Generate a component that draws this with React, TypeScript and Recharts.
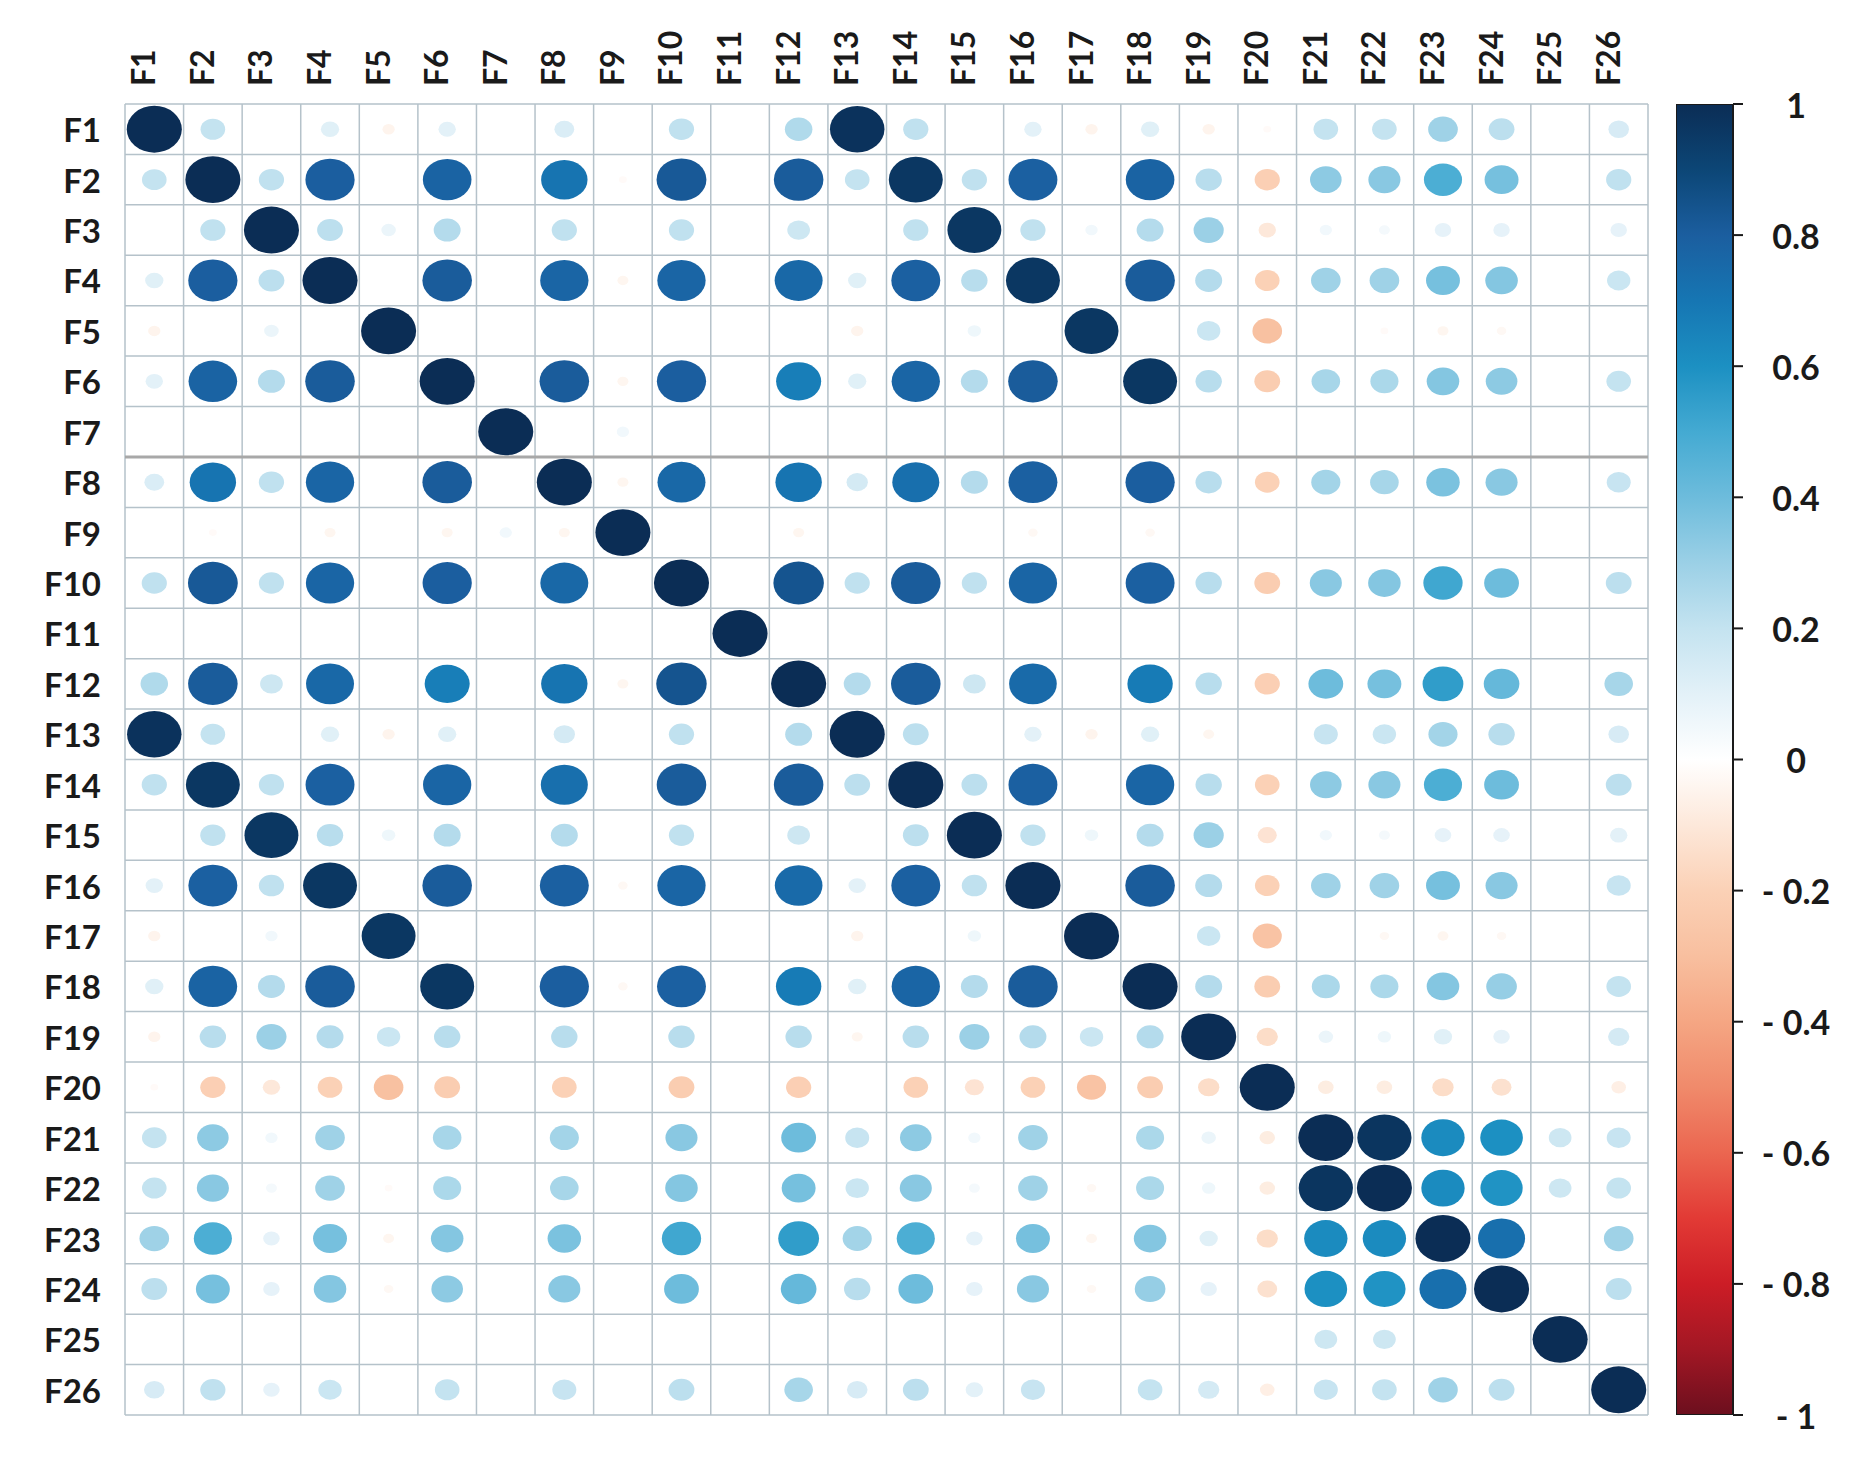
import React from 'react';
import { ScatterChart, Scatter, XAxis, YAxis, ReferenceLine, BarChart, Bar } from 'recharts';

const labels = ['F1','F2','F3','F4','F5','F6','F7','F8','F9','F10','F11','F12','F13','F14','F15','F16','F17','F18','F19','F20','F21','F22','F23','F24','F25','F26'];

const rF1 = [1, 0.2, 0, 0.11, -0.05, 0.1, 0, 0.13, 0, 0.21, 0, 0.25, 0.98, 0.21, 0, 0.1, -0.05, 0.11, -0.05, -0.02, 0.2, 0.2, 0.29, 0.22, 0, 0.14];
const rF2 = [0.2, 1, 0.21, 0.8, 0, 0.78, 0, 0.71, -0.02, 0.82, 0, 0.81, 0.2, 0.96, 0.21, 0.79, 0, 0.78, 0.23, -0.21, 0.33, 0.34, 0.48, 0.38, 0, 0.21];
const rF3 = [0, 0.21, 1, 0.22, 0.07, 0.24, 0, 0.21, 0, 0.21, 0, 0.17, 0, 0.21, 0.96, 0.21, 0.05, 0.24, 0.3, -0.1, 0.05, 0.04, 0.09, 0.09, 0, 0.09];
const rF4 = [0.11, 0.8, 0.22, 1, 0, 0.81, 0, 0.77, -0.04, 0.77, 0, 0.76, 0.11, 0.79, 0.23, 0.96, 0, 0.81, 0.24, -0.2, 0.29, 0.29, 0.38, 0.35, 0, 0.18];
const rF5 = [-0.05, 0, 0.07, 0, 1, 0, 0, 0, 0, 0, 0, 0, -0.05, 0, 0.06, 0, 0.96, 0, 0.18, -0.29, 0, -0.02, -0.04, -0.03, 0, 0];
const rF6 = [0.1, 0.78, 0.24, 0.81, 0, 1, 0, 0.81, -0.04, 0.8, 0, 0.67, 0.11, 0.77, 0.24, 0.81, 0, 0.96, 0.23, -0.22, 0.27, 0.26, 0.35, 0.33, 0, 0.2];
const rF7 = [0, 0, 0, 0, 0, 0, 1, 0, 0.05, 0, 0, 0, 0, 0, 0, 0, 0, 0, 0, 0, 0, 0, 0, 0, 0, 0];
const rF8 = [0.13, 0.71, 0.21, 0.77, 0, 0.81, 0, 1, -0.04, 0.76, 0, 0.71, 0.15, 0.73, 0.24, 0.79, 0, 0.8, 0.23, -0.2, 0.28, 0.27, 0.37, 0.34, 0, 0.19];
const rF9 = [0, -0.02, 0, -0.04, 0, -0.04, 0.05, -0.04, 1, 0, 0, -0.04, 0, 0, 0, -0.03, 0, -0.03, 0, 0, 0, 0, 0, 0, 0, 0];
const rF10 = [0.21, 0.82, 0.21, 0.77, 0, 0.8, 0, 0.76, 0, 1, 0, 0.84, 0.21, 0.81, 0.21, 0.77, 0, 0.79, 0.23, -0.22, 0.34, 0.35, 0.51, 0.4, 0, 0.22];
const rF11 = [0, 0, 0, 0, 0, 0, 0, 0, 0, 0, 1, 0, 0, 0, 0, 0, 0, 0, 0, 0, 0, 0, 0, 0, 0, 0];
const rF12 = [0.25, 0.81, 0.17, 0.76, 0, 0.67, 0, 0.71, -0.04, 0.84, 0, 1, 0.24, 0.81, 0.17, 0.75, 0, 0.68, 0.23, -0.21, 0.4, 0.38, 0.55, 0.42, 0, 0.27];
const rF13 = [0.98, 0.2, 0, 0.11, -0.05, 0.11, 0, 0.15, 0, 0.21, 0, 0.24, 1, 0.22, 0, 0.1, -0.05, 0.11, -0.04, 0, 0.19, 0.18, 0.28, 0.23, 0, 0.14];
const rF14 = [0.21, 0.96, 0.21, 0.79, 0, 0.77, 0, 0.73, 0, 0.81, 0, 0.81, 0.22, 1, 0.22, 0.79, 0, 0.77, 0.23, -0.2, 0.33, 0.34, 0.48, 0.4, 0, 0.22];
const rF15 = [0, 0.21, 0.96, 0.23, 0.06, 0.24, 0, 0.24, 0, 0.21, 0, 0.17, 0, 0.22, 1, 0.21, 0.06, 0.24, 0.3, -0.12, 0.05, 0.04, 0.09, 0.09, 0, 0.1];
const rF16 = [0.1, 0.79, 0.21, 0.96, 0, 0.81, 0, 0.79, -0.03, 0.77, 0, 0.75, 0.1, 0.79, 0.21, 1, 0, 0.81, 0.24, -0.2, 0.29, 0.29, 0.38, 0.34, 0, 0.19];
const rF17 = [-0.05, 0, 0.05, 0, 0.96, 0, 0, 0, 0, 0, 0, 0, -0.05, 0, 0.06, 0, 1, 0, 0.18, -0.28, 0, -0.03, -0.04, -0.03, 0, 0];
const rF18 = [0.11, 0.78, 0.24, 0.81, 0, 0.96, 0, 0.8, -0.03, 0.79, 0, 0.68, 0.11, 0.77, 0.24, 0.81, 0, 1, 0.24, -0.22, 0.26, 0.26, 0.35, 0.31, 0, 0.2];
const rF19 = [-0.05, 0.23, 0.3, 0.24, 0.18, 0.23, 0, 0.23, 0, 0.23, 0, 0.23, -0.04, 0.23, 0.3, 0.24, 0.18, 0.24, 1, -0.15, 0.07, 0.06, 0.11, 0.09, 0, 0.15];
const rF20 = [-0.02, -0.21, -0.1, -0.2, -0.29, -0.22, 0, -0.2, 0, -0.22, 0, -0.21, 0, -0.2, -0.12, -0.2, -0.28, -0.22, -0.15, 1, -0.08, -0.08, -0.15, -0.13, 0, -0.07];
const rF21 = [0.2, 0.33, 0.05, 0.29, 0, 0.27, 0, 0.28, 0, 0.34, 0, 0.4, 0.19, 0.33, 0.05, 0.29, 0, 0.26, 0.07, -0.08, 1, 0.97, 0.62, 0.6, 0.17, 0.19];
const rF22 = [0.2, 0.34, 0.04, 0.29, -0.02, 0.26, 0, 0.27, 0, 0.35, 0, 0.38, 0.18, 0.34, 0.04, 0.29, -0.03, 0.26, 0.06, -0.08, 0.97, 1, 0.62, 0.59, 0.17, 0.2];
const rF23 = [0.29, 0.48, 0.09, 0.38, -0.04, 0.35, 0, 0.37, 0, 0.51, 0, 0.55, 0.28, 0.48, 0.09, 0.38, -0.04, 0.35, 0.11, -0.15, 0.62, 0.62, 1, 0.73, 0, 0.29];
const rF24 = [0.22, 0.38, 0.09, 0.35, -0.03, 0.33, 0, 0.34, 0, 0.4, 0, 0.42, 0.23, 0.4, 0.09, 0.34, -0.03, 0.31, 0.09, -0.13, 0.6, 0.59, 0.73, 1, 0, 0.22];
const rF25 = [0, 0, 0, 0, 0, 0, 0, 0, 0, 0, 0, 0, 0, 0, 0, 0, 0, 0, 0, 0, 0.17, 0.17, 0, 0, 1, 0];
const rF26 = [0.14, 0.21, 0.09, 0.18, 0, 0.2, 0, 0.19, 0, 0.22, 0, 0.27, 0.14, 0.22, 0.1, 0.19, 0, 0.2, 0.15, -0.07, 0.19, 0.2, 0.29, 0.22, 0, 1];

const rows = [rF1, rF2, rF3, rF4, rF5, rF6, rF7, rF8, rF9, rF10, rF11, rF12, rF13, rF14, rF15, rF16, rF17, rF18, rF19, rF20, rF21, rF22, rF23, rF24, rF25, rF26];

const colorbarTicks = [1, 0.8, 0.6, 0.4, 0.2, 0, -0.2, -0.4, -0.6, -0.8, -1];

const paletteValues = [-1, -0.9, -0.8, -0.7, -0.6, -0.5, -0.4, -0.3, -0.2, -0.1, 0, 0.1, 0.2, 0.3, 0.4, 0.5, 0.6, 0.7, 0.8, 0.9, 1];
const paletteColors = ['#6c0f1e', '#a21724', '#cc1d26', '#e23a35', '#eb6650', '#f08a6b', '#f5a683', '#f8bf9f', '#fbd1b6', '#fde8da', '#ffffff', '#e3f1f8', '#c4e3f0', '#9bd0e6', '#6dbcdc', '#44aad2', '#1c90c2', '#1676b3', '#1b5e9f', '#0c4676', '#0b2d55'];

const hexToRgb = (h: string) => [parseInt(h.slice(1, 3), 16), parseInt(h.slice(3, 5), 16), parseInt(h.slice(5, 7), 16)];
const colorFor = (v: number) => {
  const c = Math.max(-1, Math.min(1, v));
  for (let k = 0; k < paletteValues.length - 1; k++) {
    if (c >= paletteValues[k] && c <= paletteValues[k + 1]) {
      const t = (c - paletteValues[k]) / (paletteValues[k + 1] - paletteValues[k]);
      const a = hexToRgb(paletteColors[k]);
      const b = hexToRgb(paletteColors[k + 1]);
      const m = a.map((x, i) => Math.round(x + (b[i] - x) * t));
      return `rgb(${m[0]},${m[1]},${m[2]})`;
    }
  }
  return '#ffffff';
};

const points = rows.flatMap((row, i) => row.map((v, j) => ({ x: j + 0.5, y: i + 0.5, v })));
const centers = labels.map((_, i) => i + 0.5);
const bounds = Array.from({ length: labels.length + 1 }, (_, i) => i);

const CHART_W = 1870;
const CHART_H = 1470;
const M_TOP = 104;
const M_BOTTOM = 55;
const Y_AXIS_W = 125;
const M_RIGHT = 222;
const CELL_W = (CHART_W - Y_AXIS_W - M_RIGHT) / labels.length;
const CELL_H = (CHART_H - M_TOP - M_BOTTOM) / labels.length;

const FONT = 'Lato, "Open Sans", sans-serif';

const EllipseShape = (props: any) => {
  const { cx, cy, payload } = props;
  const v = payload.v as number;
  const s = Math.sqrt(Math.abs(v));
  if (s === 0 || cx == null || cy == null) return <g />;
  return <ellipse cx={cx} cy={cy} rx={0.47 * CELL_W * s} ry={0.465 * CELL_H * s} fill={colorFor(v)} />;
};

const ColTick = (props: any) => {
  const { x, payload } = props;
  const label = labels[Math.round(payload.value - 0.5)];
  return (
    <text transform={`translate(${x + 1},86) rotate(-90)`} textAnchor="start" fontFamily={FONT} fontWeight={700} fontSize={32} fill="#1a1a1a">
      {label}
    </text>
  );
};

const RowTick = (props: any) => {
  const { y, payload } = props;
  const label = labels[Math.round(payload.value - 0.5)];
  return (
    <text x={101} y={y} textAnchor="end" dominantBaseline="central" fontFamily={FONT} fontWeight={700} fontSize={33} fill="#1a1a1a">
      {label}
    </text>
  );
};

const CbTick = (props: any) => {
  const { y, payload } = props;
  const v = payload.value as number;
  const txt = v < 0 ? `- ${Math.abs(v)}` : `${v}`;
  return (
    <text x={120} y={y} textAnchor="middle" dominantBaseline="central" fontFamily={FONT} fontWeight={700} fontSize={34} fill="#1a1a1a">
      {txt}
    </text>
  );
};

const colorbarData = [{ name: 'cb', range: [-1, 1] }];

export default function App() {
  return (
    <div style={{ position: 'absolute', left: 0, top: 0, width: CHART_W, height: CHART_H, background: '#ffffff' }}>
      <div style={{ position: 'absolute', left: 0, top: 0 }}>
        <ScatterChart width={CHART_W} height={CHART_H} margin={{ top: 0, right: M_RIGHT, bottom: M_BOTTOM, left: 0 }}>
          <XAxis type="number" dataKey="x" domain={[0, labels.length]} ticks={centers} interval={0} orientation="top" height={M_TOP} tick={<ColTick />} tickLine={false} axisLine={false} allowDataOverflow />
          <YAxis type="number" dataKey="y" domain={[0, labels.length]} ticks={centers} interval={0} reversed width={Y_AXIS_W} tick={<RowTick />} tickLine={false} axisLine={false} allowDataOverflow />
          {bounds.map((b) => (
            <ReferenceLine key={`vx${b}`} x={b} stroke="#b5c2ca" strokeWidth={1.5} />
          ))}
          {bounds.map((b) => (
            <ReferenceLine key={`hy${b}`} y={b} stroke={b === 7 ? '#a8a8a8' : '#b5c2ca'} strokeWidth={b === 7 ? 3 : 1.5} />
          ))}
          <Scatter data={points} shape={<EllipseShape />} isAnimationActive={false} />
        </ScatterChart>
      </div>
      <div style={{ position: 'absolute', left: 1676, top: 0 }}>
        <BarChart width={194} height={CHART_H} data={colorbarData} margin={{ top: M_TOP, right: 0, bottom: M_BOTTOM, left: 0 }} barCategoryGap={0}>
          <defs>
            <linearGradient id="cbGrad" x1="0" y1="0" x2="0" y2="1">
              {paletteValues.map((pv, k) => (
                <stop key={k} offset={`${((1 - pv) / 2) * 100}%`} stopColor={colorFor(pv)} />
              )).reverse()}
            </linearGradient>
          </defs>
          <XAxis dataKey="name" hide />
          <YAxis orientation="right" type="number" domain={[-1, 1]} ticks={colorbarTicks} interval={0} width={137} tickSize={10} tickLine={{ stroke: '#1a1a1a', strokeWidth: 2 }} axisLine={false} tick={<CbTick />} allowDataOverflow />
          <Bar dataKey="range" fill="url(#cbGrad)" stroke="#1a1a1a" strokeWidth={2} isAnimationActive={false} />
        </BarChart>
      </div>
    </div>
  );
}
